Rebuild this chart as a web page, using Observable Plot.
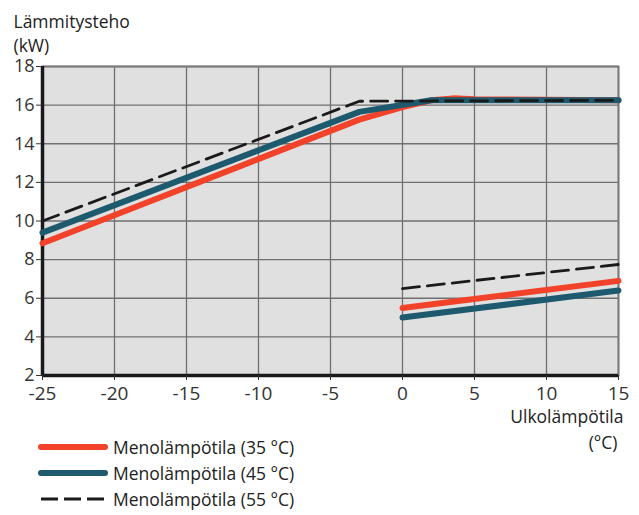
<!DOCTYPE html>
<html>
<head>
<meta charset="utf-8">
<script src="https://cdn.jsdelivr.net/npm/d3@7"></script>
<script src="https://cdn.jsdelivr.net/npm/@observablehq/plot@0.6"></script>
<style>
  body { margin: 0; background: #fff; font-family: "Open Sans", sans-serif; }
  #wrap { position: relative; width: 639px; height: 515px; }
  #legend { position: absolute; left: 37px; top: 434px; font-size: 17.5px; color: #222; }
  .row { display: flex; align-items: center; height: 26px; }
  .row svg { margin-right: 4px; }
</style>
</head>
<body>
<div id="wrap"></div>
<script>
// Series names
const seriesNames = ["Menolämpötila (35 °C)", "Menolämpötila (45 °C)", "Menolämpötila (55 °C)"];
const seriesColors = ["#f2432a", "#1e5a6e", "#1a1a1a"];

// Upper branch (outdoor temp °C -> heating power kW)
const x35a = [-25, -3, 0, 2, 3.5, 5, 15];
const y35a = [8.85, 15.25, 15.9, 16.25, 16.35, 16.3, 16.25];
const x45a = [-25, -3, 2, 15];
const y45a = [9.4, 15.65, 16.25, 16.25];
const x55a = [-25, -3, 15];
const y55a = [10.0, 16.2, 16.25];

// Lower branch
const x35b = [0, 15];
const y35b = [5.5, 6.9];
const x45b = [0, 15];
const y45b = [5.0, 6.4];
const x55b = [0, 15];
const y55b = [6.5, 7.75];

const xTicks = [-25, -20, -15, -10, -5, 0, 5, 10, 15];
const yTicks = [2, 4, 6, 8, 10, 12, 14, 16, 18];

function rows(xs, ys, s, seg) { return xs.map((x, i) => ({x, y: ys[i], s, seg})); }
const data = [
  ...rows(x35a, y35a, 0, "a"), ...rows(x35b, y35b, 0, "b"),
  ...rows(x45a, y45a, 1, "a"), ...rows(x45b, y45b, 1, "b"),
  ...rows(x55a, y55a, 2, "a"), ...rows(x55b, y55b, 2, "b")
];

const font = "Open Sans";
const chart = Plot.plot({
  width: 639,
  height: 515,
  marginLeft: 42,
  marginRight: 21,
  marginTop: 66,
  marginBottom: 140,
  style: { fontFamily: font, background: "#fff", color: "#333" },
  x: { domain: [-25, 15], ticks: xTicks },
  y: { domain: [2, 18], ticks: yTicks },
  marks: [
    Plot.frame({ fill: "#e0e0e0", stroke: null }),
    Plot.gridX(xTicks, { stroke: "#707070", strokeOpacity: 1, strokeWidth: 1.3 }),
    Plot.gridY(yTicks, { stroke: "#707070", strokeOpacity: 1, strokeWidth: 1.3 }),
    Plot.frame({ stroke: "#7a7a7a", strokeWidth: 2 }),
    Plot.ruleX([-25], { stroke: "#1a1a1a", strokeWidth: 3.5 }),
    Plot.ruleY([2], { stroke: "#1a1a1a", strokeWidth: 3.5 }),
    Plot.axisX({ ticks: xTicks, tickSize: 5, tickPadding: 6, fontSize: 19, label: null, tickFormat: d => String(d) }),
    Plot.axisY({ ticks: yTicks, tickSize: 6, tickPadding: 2, fontSize: 18, label: null }),
    Plot.line(data.filter(d => d.s === 0), { x: "x", y: "y", z: "seg", stroke: seriesColors[0], strokeWidth: 6, strokeLinejoin: "round" }),
    Plot.line(data.filter(d => d.s === 1), { x: "x", y: "y", z: "seg", stroke: seriesColors[1], strokeWidth: 6, strokeLinejoin: "round" }),
    Plot.line(data.filter(d => d.s === 2), { x: "x", y: "y", z: "seg", stroke: seriesColors[2], strokeWidth: 2.8, strokeDasharray: "17,8", strokeLinejoin: "round" }),
    Plot.text(["Lämmitysteho"], { frameAnchor: "top-left", dx: -29, dy: -51, textAnchor: "start", fontSize: 17.5, fill: "#222" }),
    Plot.text(["(kW)"], { frameAnchor: "top-left", dx: -29, dy: -27, textAnchor: "start", fontSize: 17.5, fill: "#222" }),
    Plot.text(["Ulkolämpötila"], { frameAnchor: "bottom-right", dx: 5, dy: 47, textAnchor: "end", fontSize: 17.5, fill: "#222" }),
    Plot.text(["(°C)"], { frameAnchor: "bottom-right", dx: -1, dy: 73, textAnchor: "end", fontSize: 17.5, fill: "#222" })
  ]
});

const wrap = document.getElementById("wrap");
wrap.appendChild(chart);

const legend = document.createElement("div");
legend.id = "legend";
seriesNames.forEach((name, i) => {
  const row = document.createElement("div");
  row.className = "row";
  const dash = i === 2 ? 'stroke-dasharray="17,6"' : '';
  const sw = i === 2 ? 3 : 6;
  row.innerHTML = `<svg width="72" height="10"><line x1="4" y1="5" x2="68" y2="5" stroke="${seriesColors[i]}" stroke-width="${sw}" stroke-linecap="${i === 2 ? 'butt' : 'round'}" ${dash}/></svg><span>${name}</span>`;
  legend.appendChild(row);
});
wrap.appendChild(legend);
</script>
</body>
</html>
